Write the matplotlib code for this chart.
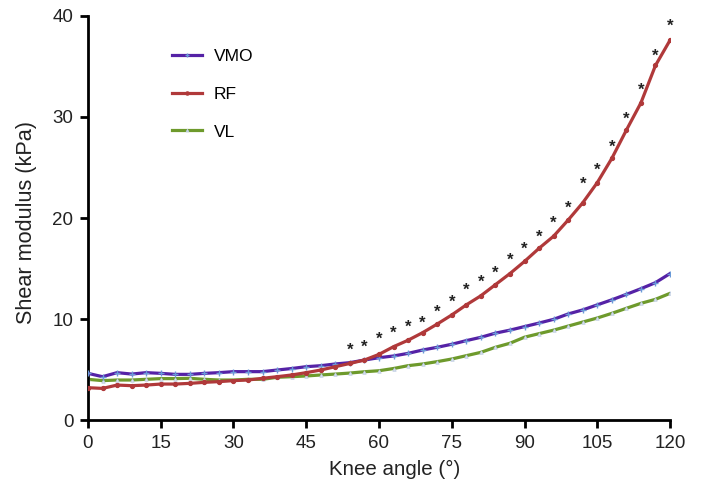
import matplotlib
matplotlib.use("Agg")
import matplotlib.pyplot as plt

plt.rcParams['font.family'] = ['Liberation Sans', 'DejaVu Sans']

angles = list(range(0, 121, 3))

vmo = [4.62, 4.29, 4.69, 4.55, 4.69, 4.62, 4.52, 4.52, 4.62, 4.69, 4.79,
       4.79, 4.79, 4.95, 5.10, 5.28, 5.38, 5.55, 5.68, 5.94, 6.17, 6.34,
       6.60, 6.93, 7.20, 7.50, 7.86, 8.19, 8.60, 8.90, 9.25, 9.60, 9.97,
       10.5, 10.9, 11.4, 11.9, 12.44, 13.0, 13.6, 14.5]
rf = [3.20, 3.13, 3.46, 3.40, 3.46, 3.56, 3.56, 3.63, 3.73, 3.80, 3.90,
      3.96, 4.13, 4.29, 4.46, 4.69, 4.95, 5.28, 5.60, 5.94, 6.50, 7.26,
      7.90, 8.65, 9.50, 10.4, 11.4, 12.3, 13.4, 14.5, 15.7, 17.0, 18.2,
      19.8, 21.5, 23.5, 25.9, 28.7, 31.4, 35.1, 37.6]
vl = [4.03, 3.90, 3.96, 3.96, 4.03, 4.10, 4.10, 4.13, 4.03, 3.96, 3.96,
      4.03, 4.03, 4.23, 4.29, 4.36, 4.46, 4.55, 4.65, 4.78, 4.88, 5.10,
      5.38, 5.55, 5.78, 6.04, 6.37, 6.70, 7.20, 7.60, 8.20, 8.55, 8.90,
      9.30, 9.70, 10.1, 10.56, 11.06, 11.55, 11.95, 12.54]

# significance marks (RF vs others), 54..120 deg
star_angles = list(range(54, 121, 3))
star_y = [6.86, 7.2, 8.0, 8.6, 9.2, 9.6, 10.7, 11.7, 12.8, 13.6, 14.5,
          15.8, 16.9, 18.1, 19.5, 21.0, 23.3, 24.75, 27.0, 29.8, 32.6,
          36.0, 39.0]

fig = plt.figure(figsize=(7.01, 4.83), dpi=100)
ax = fig.add_axes([0.1255, 0.1304, 0.8303, 0.8365])

ax.plot(angles, vmo, color='#5522a6', lw=2.3, marker='+', ms=4,
        mec='#6a9ad8', mew=1, label='VMO', zorder=3)
ax.plot(angles, rf, color='#b0393a', lw=2.3, marker='o', ms=2.8,
        mec='#b0393a', mfc='#b0393a', label='RF', zorder=4)
ax.plot(angles, vl, color='#6e9a2c', lw=2.3, marker='^', ms=2.5,
        mec='#b8c8e0', mfc='#d8e0ec', mew=0.5, label='VL', zorder=2)

for a, s in zip(star_angles, star_y):
    ax.text(a, s, '*', ha='center', va='center', fontsize=12,
            color='#222222', fontweight='bold')

ax.set_xlim(0, 120)
ax.set_ylim(0, 40)
ax.set_xticks(range(0, 121, 15))
ax.set_yticks(range(0, 41, 10))
ax.spines['top'].set_visible(False)
ax.spines['right'].set_visible(False)
for sp in ('left', 'bottom'):
    ax.spines[sp].set_linewidth(2)
ax.tick_params(width=2, length=5.5, pad=5, labelsize=13.5, colors='black',
               labelcolor='#222222')
ax.set_xlabel('Knee angle (°)', fontsize=14.8, color='#222222')
ax.set_ylabel('Shear modulus (kPa)', fontsize=15.6, color='#222222')
ax.xaxis.set_label_coords(0.526, -0.1)
ax.yaxis.set_label_coords(-0.088, 0.49)

ax.legend(loc='upper left', bbox_to_anchor=(0.13, 0.94), frameon=False,
          fontsize=12.5, handlelength=1.7, handletextpad=0.7,
          labelspacing=1.3, borderpad=0, markerscale=0.8)

fig.savefig('out.png', dpi=100)
